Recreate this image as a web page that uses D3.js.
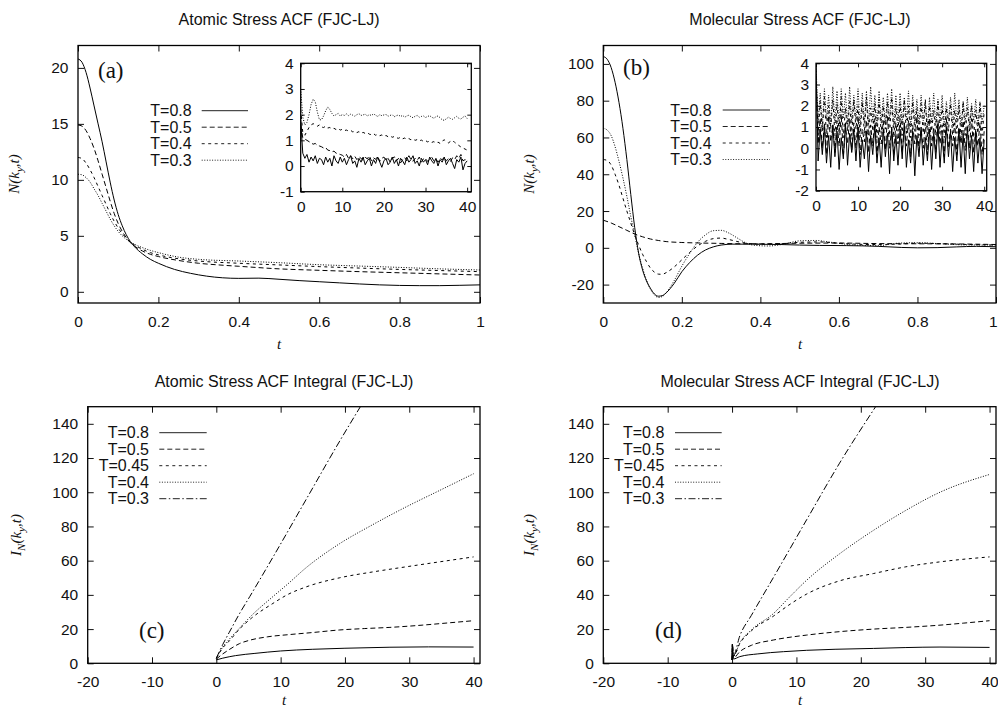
<!DOCTYPE html>
<html><head><meta charset="utf-8">
<script src="https://cdn.jsdelivr.net/npm/d3@7"></script>
<style>
body{margin:0;background:#fff}
svg{display:block}
text{font-family:"Liberation Sans",Arial,Helvetica,sans-serif;fill:#111}
</style></head><body>
<svg id="c" width="998" height="708"></svg>
<script>
// ---------------- DATA ----------------
// Panel (a): Atomic stress ACF, [t, N]
const a08 = [[0,20.8],[0.01,20.5],[0.02,19.6],[0.03,18.2],[0.04,16.6],[0.05,15.0],[0.06,13.4],[0.07,11.6],[0.08,9.8],[0.09,8.2],[0.1,6.9],[0.11,5.9],[0.12,5.1],[0.13,4.5],[0.14,4.05],[0.16,3.4],[0.18,2.9],[0.2,2.55],[0.24,2.0],[0.28,1.65],[0.32,1.4],[0.36,1.25],[0.4,1.2],[0.45,1.22],[0.5,1.12],[0.55,1.0],[0.6,0.9],[0.65,0.8],[0.7,0.7],[0.75,0.62],[0.8,0.57],[0.85,0.55],[0.9,0.55],[0.95,0.58],[1,0.62]];
const a05 = [[0,14.9],[0.01,14.8],[0.02,14.4],[0.03,13.7],[0.04,12.8],[0.05,11.7],[0.06,10.5],[0.07,9.3],[0.08,8.1],[0.09,7.0],[0.1,6.1],[0.11,5.4],[0.12,4.85],[0.13,4.4],[0.14,4.1],[0.16,3.65],[0.18,3.35],[0.2,3.15],[0.25,2.8],[0.3,2.55],[0.35,2.4],[0.4,2.28],[0.5,2.05],[0.6,1.92],[0.7,1.8],[0.8,1.7],[0.9,1.6],[1,1.5]];
const a04 = [[0,12.0],[0.01,11.9],[0.02,11.5],[0.03,10.9],[0.04,10.2],[0.05,9.4],[0.06,8.6],[0.07,7.8],[0.08,7.0],[0.09,6.3],[0.1,5.7],[0.11,5.2],[0.12,4.8],[0.13,4.45],[0.14,4.2],[0.16,3.8],[0.18,3.5],[0.2,3.3],[0.25,2.95],[0.3,2.75],[0.4,2.55],[0.5,2.4],[0.6,2.25],[0.7,2.12],[0.8,2.0],[0.9,1.9],[1,1.8]];
const a03 = [[0,10.5],[0.01,10.45],[0.02,10.2],[0.03,9.8],[0.04,9.2],[0.05,8.6],[0.06,7.9],[0.07,7.2],[0.08,6.5],[0.09,5.9],[0.1,5.4],[0.11,5.0],[0.12,4.7],[0.13,4.45],[0.14,4.25],[0.16,3.95],[0.18,3.7],[0.2,3.5],[0.25,3.1],[0.3,2.9],[0.4,2.75],[0.5,2.6],[0.6,2.42],[0.7,2.3],[0.8,2.18],[0.9,2.05],[1,1.95]];

// Inset (a): values every 0.5 time units from t = 0 to 40
const insetStepA = 0.5;
const ia03 = [3.0,1.9,1.6,1.7,2.0,2.4,2.6,2.5,2.1,1.8,1.8,1.95,2.15,2.3,2.2,2.05,1.95,2.0,2.05,1.95,
2.0,1.97,2.03,1.96,2.02,1.98,1.94,2.0,2.04,1.97,1.99,2.02,1.95,2.0,1.97,2.03,1.98,1.93,2.0,1.96,
1.99,2.01,1.94,1.97,2.0,1.92,1.96,1.99,1.93,1.97,1.9,1.95,1.98,1.92,1.88,1.94,1.97,1.9,1.93,1.95,
1.89,1.93,1.96,1.9,1.86,1.92,1.95,1.88,1.8,1.78,1.84,1.9,1.85,1.82,1.88,1.93,1.86,1.83,1.9,1.95,1.85];
const ia04 = [2.2,1.3,1.2,1.35,1.5,1.6,1.65,1.6,1.55,1.6,1.52,1.5,1.55,1.48,1.5,1.45,1.47,1.42,1.46,1.4,
1.43,1.38,1.4,1.36,1.39,1.33,1.35,1.3,1.34,1.28,1.31,1.27,1.3,1.24,1.22,1.26,1.2,1.23,1.18,1.21,
1.16,1.19,1.14,1.17,1.12,1.15,1.1,1.08,1.12,1.06,1.09,1.04,1.07,1.02,1.05,1.0,1.03,0.98,1.01,0.96,
0.99,0.94,0.97,0.92,0.95,0.9,0.93,0.88,0.97,1.02,0.95,0.9,0.96,1.0,0.92,0.86,0.8,0.74,0.7,0.66,0.62];
const ia05 = [1.6,1.1,1.05,1.0,0.95,0.9,0.85,0.88,0.8,0.78,0.75,0.7,0.72,0.62,0.6,0.55,0.58,0.5,0.48,0.45,
0.42,0.35,0.45,0.3,0.4,0.28,0.38,0.25,0.36,0.3,0.22,0.34,0.28,0.4,0.2,0.32,0.26,0.38,0.18,0.3,
0.35,0.22,0.3,0.15,0.28,0.36,0.2,0.3,0.12,0.25,0.33,0.2,0.4,0.25,0.18,0.3,0.22,0.35,0.15,0.28,
0.3,0.18,0.26,0.34,0.2,0.28,0.15,0.3,0.24,0.35,0.2,0.28,0.18,0.32,0.25,0.4,0.3,0.45,0.2,0.25,0.22];
const ia08 = [1.8,0.5,0.3,0.45,0.15,0.35,0.2,0.4,0.1,0.3,0.25,0.05,0.35,0.15,0.3,0.0,0.4,0.2,0.1,0.35,
0.15,0.3,0.05,0.25,0.4,0.1,0.2,-0.05,0.3,0.15,0.35,0.05,0.2,0.3,0.0,0.25,0.1,0.35,0.15,-0.05,
0.2,0.3,0.05,0.15,0.35,0.1,0.25,0.0,0.3,0.2,0.05,0.35,0.15,0.25,0.4,0.1,0.2,0.0,0.3,0.15,
0.25,0.05,0.35,0.2,0.1,0.3,0.0,0.25,0.15,0.35,0.05,0.2,0.3,0.1,-0.1,0.25,0.15,0.35,-0.15,0.1,0.2];

// Panel (b): Molecular stress ACF, [t, N]
const b08 = [[0,104],[0.01,102.5],[0.02,98],[0.03,90],[0.04,79],[0.05,65],[0.06,48],[0.07,29],[0.08,11],[0.09,-3],[0.1,-12],[0.11,-18],[0.12,-22],[0.13,-25],[0.14,-26.3],[0.15,-26],[0.16,-24.5],[0.18,-19.5],[0.2,-13],[0.22,-8],[0.24,-4],[0.26,-1.2],[0.28,0.5],[0.3,1.5],[0.33,2],[0.38,2],[0.45,1.8],[0.5,1.5],[0.55,1.3],[0.62,1.2],[0.7,0.8],[0.76,0.2],[0.8,0],[0.85,0.1],[0.9,0.5],[0.95,0.8],[1,0.6]];
const b05 = [[0,15],[0.02,13.5],[0.04,11.5],[0.06,9.5],[0.08,7.5],[0.1,6],[0.12,4.8],[0.14,4],[0.16,3.4],[0.2,2.9],[0.25,2.6],[0.3,2.4],[0.35,2.2],[0.4,2.2],[0.5,2.5],[0.6,2.6],[0.7,2.3],[0.8,2.2],[0.9,2.1],[1,1.8]];
const b04 = [[0,48],[0.01,47.5],[0.02,45],[0.03,40],[0.04,34],[0.05,27],[0.06,20],[0.07,13.5],[0.08,7],[0.09,1.5],[0.1,-3.5],[0.11,-7.5],[0.12,-11],[0.13,-13.2],[0.14,-14.3],[0.15,-14.4],[0.16,-13.5],[0.18,-10.5],[0.2,-6.5],[0.22,-2.5],[0.24,1],[0.26,3.5],[0.28,5],[0.3,5.3],[0.32,4.5],[0.35,3],[0.4,2],[0.45,2.2],[0.5,3],[0.55,3.2],[0.6,2.5],[0.68,1.8],[0.75,2],[0.8,2.5],[0.87,2.2],[0.93,1.8],[1,1.5]];
const b03 = [[0,65],[0.01,64],[0.02,61],[0.03,55],[0.04,47],[0.05,38],[0.06,28],[0.07,17],[0.08,7],[0.09,-3],[0.1,-11],[0.11,-17.5],[0.12,-22.5],[0.13,-25.5],[0.14,-27],[0.15,-26.5],[0.16,-24.5],[0.18,-18],[0.2,-10],[0.22,-3],[0.24,3],[0.26,7],[0.28,9.3],[0.3,9.5],[0.32,8],[0.34,5.5],[0.36,3],[0.38,1.5],[0.42,1],[0.46,2],[0.5,3.8],[0.54,4],[0.58,3],[0.64,1.5],[0.7,1.2],[0.75,2.5],[0.8,2.8],[0.86,2.2],[0.92,1.6],[1,1.5]];

// Inset (b): values every 0.5 time units from t = 0 to 40
const insetStepB = 0.5;
const ib03 = [4.0,1.2,2.6,1.0,2.8,1.3,2.5,1.1,2.9,1.2,2.7,1.0,2.8,1.4,2.6,1.1,2.9,1.2,2.5,1.3,
2.8,1.0,2.6,1.2,2.7,1.1,2.9,1.3,2.5,1.0,2.7,1.2,2.4,1.1,2.6,1.3,2.8,1.0,2.5,1.2,
2.6,1.1,2.4,1.3,2.7,1.0,2.5,1.2,2.3,1.1,2.5,1.3,2.2,1.0,2.4,1.2,2.6,1.1,2.3,1.2,
2.5,1.0,2.2,1.3,2.4,1.1,2.6,1.2,2.3,1.0,2.2,1.2,2.4,1.1,2.1,1.3,2.3,1.0,2.2,1.2,2.0];
const ib04 = [3.7,0.6,2.2,0.8,2.4,0.5,2.0,0.9,2.3,0.6,2.1,0.7,2.4,0.5,1.9,0.8,2.2,0.6,2.3,0.9,
2.0,0.5,2.2,0.7,2.4,0.6,1.9,0.8,2.1,0.5,2.3,0.7,2.0,0.9,2.2,0.6,2.4,0.5,1.9,0.8,
2.1,0.6,2.3,0.7,2.0,0.5,2.2,0.8,1.9,0.6,2.1,0.7,2.3,0.5,2.0,0.8,1.8,0.6,2.2,0.7,
2.0,0.5,1.9,0.8,2.1,0.6,1.8,0.7,2.0,0.5,2.2,0.6,1.9,0.8,2.0,0.5,1.8,0.7,2.1,0.6,1.7];
const ib05 = [3.5,0.2,1.4,0.0,1.2,-0.3,1.5,0.3,1.1,-0.2,1.3,0.1,1.6,-0.4,1.0,0.2,1.4,-0.1,1.2,0.0,
1.5,-0.3,0.9,0.3,1.3,-0.2,1.1,0.1,1.4,-0.4,1.0,0.2,1.3,-0.1,1.5,0.0,0.9,-0.3,1.2,0.2,
1.4,-0.2,1.0,0.1,1.3,-0.4,1.1,0.2,1.5,-0.1,0.9,0.0,1.2,-0.3,1.4,0.1,1.0,-0.2,1.3,0.2,
1.1,-0.4,1.4,0.0,0.9,0.1,1.2,-0.3,1.0,0.2,1.3,-0.1,1.1,0.0,1.4,-0.2,0.9,0.1,1.2,-0.3,0.8];
const ib08 = [3.9,-0.6,0.9,-0.3,1.0,-0.7,0.6,-0.9,1.1,-0.4,0.8,-1.0,0.5,-0.5,1.2,-0.8,0.7,-0.2,0.9,-0.6,
1.0,-0.9,0.4,-0.5,0.8,-1.1,0.6,-0.3,1.1,-0.7,0.5,-0.9,0.9,-0.4,0.7,-1.2,1.0,-0.6,0.6,-0.8,
0.9,-0.5,1.2,-0.9,0.4,-0.7,0.8,-1.3,0.6,-0.4,1.0,-0.8,0.5,-0.6,0.9,-1.0,0.7,-0.5,1.1,-0.9,
0.6,-0.7,1.0,-0.4,0.8,-1.1,0.5,-0.6,0.9,-0.9,0.7,-1.2,1.0,-0.5,0.6,-1.1,0.8,-0.7,0.5,-1.2,0.4];

// Panel (c): Atomic stress ACF integral, [t, I_N]
const c08 = [[0,2],[1,3],[3,4.5],[6,5.8],[10,7.2],[15,8.2],[20,8.8],[27,9.4],[33,9.6],[40,9.5]];
const c05 = [[0,2.5],[1,5.5],[2,8],[3.6,11.5],[5.2,13.5],[8,15.5],[11.4,16.8],[15,18],[19.2,19.5],[23,20.3],[27,21],[32,22.3],[36,23.6],[40,24.9]];
const c045 = [[0,3],[1,9],[2,13],[3.6,20],[5.5,26.5],[8.8,35],[11,40],[14,44.7],[19.2,50],[24.3,53.4],[29.5,56.4],[34.7,59.3],[40,62.2]];
const c04 = [[0,3],[1,9.5],[2,14],[3.6,20.5],[5.5,28],[8.8,39],[11,46],[14,56],[19.2,70],[24.3,81],[29.5,91.4],[34.7,101],[40,110.8]];
const c03 = [[0,3],[1,11],[2,18],[3.6,29],[5.2,39],[8.8,62],[14,96],[19.2,130],[22.4,150]];

// Panel (d): Molecular stress ACF integral, [t, I_N]
const d08 = [[0,2],[0.05,11],[0.2,2.5],[1.2,3.9],[4,5.5],[8,6.8],[11.6,7.6],[16,8.2],[22,8.7],[27,9.2],[32.3,9.5],[40,9.3]];
const d05 = [[0,2],[0.05,11],[0.2,3],[1.2,6.8],[3,10.5],[6.4,13.6],[11.6,16.5],[16.7,18.5],[22,20],[27,21],[32.3,22.3],[36,23.5],[40,24.9]];
const d045 = [[0,2],[0.05,11],[0.2,4],[1.2,11.5],[3,19],[6.4,27.5],[9,34.5],[11.6,40.5],[16.7,48.2],[22,52.5],[27,56.4],[32.3,59.3],[40,62.2]];
const d04 = [[0,2],[0.05,11],[0.2,4],[1.2,12],[3,19.5],[6.4,29],[9,39],[11.6,48.6],[16.7,64],[22,77.8],[27,89.4],[32.3,100],[40,110.4]];
const d03 = [[0,2],[0.05,11],[0.2,4.5],[1.2,16],[3,28],[6.4,50],[11.6,84],[16.7,117],[22.3,150]];

// Labels and ticks
const legendTop = ["T=0.8","T=0.5","T=0.4","T=0.3"];
const legendBottom = ["T=0.8","T=0.5","T=0.45","T=0.4","T=0.3"];
const titles = ["Atomic Stress ACF (FJC-LJ)","Molecular Stress ACF (FJC-LJ)","Atomic Stress ACF Integral (FJC-LJ)","Molecular Stress ACF Integral (FJC-LJ)"];
const xTicksTop = [0,0.2,0.4,0.6,0.8,1];
const yTicksA = [0,5,10,15,20];
const yTicksB = [-20,0,20,40,60,80,100];
const xTicksBottom = [-20,-10,0,10,20,30,40];
const yTicksCD = [0,20,40,60,80,100,120,140];
const xTicksInset = [0,10,20,30,40];
const yTicksInsetA = [-1,0,1,2,3,4];
const yTicksInsetB = [-2,-1,0,1,2,3,4];

// ---------------- DRAWING ----------------
const svg = d3.select("#c");
const DASH = {solid:null, long:"5,3", short:"3,3.5", dot:"1,1.6", dashdot:"7,2.5,1.5,2.5"};
const topStyles = [DASH.solid, DASH.long, DASH.short, DASH.dot];
const botStyles = [DASH.solid, DASH.long, DASH.short, DASH.dot, DASH.dashdot];
let clipN = 0;

function drawPanel(p) {
  const g = svg.append("g");
  const x = d3.scaleLinear().domain(p.xDomain).range([p.left, p.right]);
  const y = d3.scaleLinear().domain(p.yDomain).range([p.bottom, p.top]);
  const cid = "clip" + (clipN++);
  svg.append("clipPath").attr("id", cid).append("rect")
    .attr("x", p.left).attr("y", p.top).attr("width", p.right - p.left).attr("height", p.bottom - p.top);
  g.append("rect").attr("x", p.left).attr("y", p.top).attr("width", p.right - p.left)
    .attr("height", p.bottom - p.top).attr("fill", "#fff");
  const fmt = d => String(d);
  const none = () => "";
  const ts = p.tickLen;
  const fs = p.fontSize;
  const ax = [
    [d3.axisBottom(x).tickValues(p.xTicks).tickFormat(fmt).tickPadding(p.xPad), `translate(0,${p.bottom})`, "b"],
    [d3.axisTop(x).tickValues(p.xTicks).tickFormat(none), `translate(0,${p.top})`, "t"],
    [d3.axisLeft(y).tickValues(p.yTicks).tickFormat(fmt).tickPadding(p.yPad), `translate(${p.left},0)`, "l"],
    [d3.axisRight(y).tickValues(p.yTicks).tickFormat(none), `translate(${p.right},0)`, "r"]
  ];
  ax.forEach(([a, tr, side]) => {
    const ag = g.append("g").attr("transform", tr)
      .call(a.tickSizeInner(-ts).tickSizeOuter(0));
    ag.select(".domain").remove();
    ag.selectAll("line").attr("stroke", "#111").attr("stroke-width", 1);
    ag.selectAll("text").attr("font-size", fs)
      .attr("font-family", '"Liberation Sans",Arial,sans-serif').attr("fill", "#111");
    if (side === "b" && p.lastLabelEnd) {
      ag.selectAll(".tick").filter(d => d === p.xTicks[p.xTicks.length - 1])
        .select("text").attr("text-anchor", "end").attr("dx", 1);
    }
  });
  const line = d3.line().x(d => x(d[0])).y(d => y(d[1])).curve(p.curve);
  const lg = g.append("g").attr("clip-path", `url(#${cid})`);
  p.series.forEach(s => {
    lg.append("path").datum(s.data).attr("d", line)
      .attr("fill", "none").attr("stroke", "#000").attr("stroke-width", p.lw || 1)
      .attr("stroke-dasharray", s.dash);
  });
  g.append("rect").attr("x", p.left).attr("y", p.top).attr("width", p.right - p.left)
    .attr("height", p.bottom - p.top).attr("fill", "none").attr("stroke", "#000").attr("stroke-width", 1.3);
  return {x, y};
}

function yLabel(cx, cy, prefix) {
  const t = svg.append("text").attr("transform", `translate(${cx},${cy}) rotate(-90)`)
    .attr("text-anchor", "middle")
    .attr("font-style", "italic").attr("font-size", 15).style("font-family", '"Liberation Serif","Times New Roman",serif');
  if (prefix) {
    t.append("tspan").text("I");
    t.append("tspan").attr("dy", 4).attr("font-size", 11).text("N");
    t.append("tspan").attr("dy", -4).text("(k");
  } else {
    t.append("tspan").text("N(k");
  }
  t.append("tspan").attr("dy", 4).attr("font-size", 11).text("y");
  t.append("tspan").attr("dy", -4).text(",t)");
}

function tLabel(cx, by) {
  svg.append("text").attr("x", cx).attr("y", by).attr("text-anchor", "middle")
    .style("font-family", '"Liberation Serif",serif').attr("font-style", "italic")
    .attr("font-size", 15).text("t");
}

function title(cx, by, s) {
  svg.append("text").attr("x", cx).attr("y", by).attr("text-anchor", "middle")
    .attr("font-size", 16).text(s);
}

function panelLabel(x0, by, s) {
  svg.append("text").attr("x", x0).attr("y", by)
    .style("font-family", '"Liberation Serif","Times New Roman",serif')
    .attr("font-size", 23).text(s);
}

function legend(textRight, lineX0, lineX1, y0, names, styles) {
  names.forEach((n, i) => {
    const yy = y0 + i * 16.5;
    svg.append("text").attr("x", textRight).attr("y", yy + 5.6).attr("text-anchor", "end")
      .attr("font-size", 16).text(n);
    svg.append("line").attr("x1", lineX0).attr("x2", lineX1).attr("y1", yy).attr("y2", yy)
      .attr("stroke", "#222").attr("stroke-width", 1).attr("stroke-dasharray", styles[i]);
  });
}

const main = {tickLen: 6, fontSize: 15.5, xPad: 13, yPad: 9.5, curve: d3.curveMonotoneX, lw: 1};
const inset = {tickLen: 4, fontSize: 15.5, xPad: 9.5, yPad: 7, curve: d3.curveLinear, lw: 1};
const toSeries = (vals, step) => vals.map((v, i) => [i * step, v]);

// (a)
drawPanel(Object.assign({}, main, {left: 78, right: 480, top: 45.5, bottom: 303,
  xDomain: [0, 1], yDomain: [-1, 22], xTicks: xTicksTop, yTicks: yTicksA,
  series: [{data: a03, dash: DASH.dot}, {data: a04, dash: DASH.short}, {data: a05, dash: DASH.long}, {data: a08, dash: DASH.solid}]}));
drawPanel(Object.assign({}, inset, {left: 300.7, right: 471.3, top: 63.3, bottom: 191.7,
  xDomain: [0, 41], yDomain: [-1, 4], xTicks: xTicksInset, yTicks: yTicksInsetA,
  series: [{data: toSeries(ia03, insetStepA), dash: DASH.dot}, {data: toSeries(ia04, insetStepA), dash: DASH.short},
           {data: toSeries(ia05, insetStepA), dash: DASH.long}, {data: toSeries(ia08, insetStepA), dash: DASH.solid}]}));
// (b)
drawPanel(Object.assign({}, main, {left: 603.3, right: 996, top: 45.5, bottom: 303, lastLabelEnd: true,
  xDomain: [0, 1], yDomain: [-30, 110], xTicks: xTicksTop, yTicks: yTicksB,
  series: [{data: b03, dash: DASH.dot}, {data: b04, dash: DASH.short}, {data: b05, dash: DASH.long}, {data: b08, dash: DASH.solid}]}));
drawPanel(Object.assign({}, inset, {left: 816, right: 986.7, top: 63.3, bottom: 190.7,
  xDomain: [0, 40.6], yDomain: [-2, 4], xTicks: xTicksInset, yTicks: yTicksInsetB,
  series: [{data: toSeries(ib03, insetStepB), dash: DASH.dot}, {data: toSeries(ib04, insetStepB), dash: DASH.short},
           {data: toSeries(ib05, insetStepB), dash: DASH.long}, {data: toSeries(ib08, insetStepB), dash: DASH.solid}]}));
// (c)
drawPanel(Object.assign({}, main, {left: 87.7, right: 480, top: 406.7, bottom: 663.3,
  xDomain: [-20, 41], yDomain: [0, 150], xTicks: xTicksBottom, yTicks: yTicksCD,
  series: [{data: c08, dash: DASH.solid}, {data: c05, dash: DASH.long}, {data: c045, dash: DASH.short}, {data: c04, dash: DASH.dot}, {data: c03, dash: DASH.dashdot}]}));
// (d)
drawPanel(Object.assign({}, main, {left: 603.3, right: 996, top: 406.7, bottom: 663.3,
  xDomain: [-20, 41], yDomain: [0, 150], xTicks: xTicksBottom, yTicks: yTicksCD,
  series: [{data: d08, dash: DASH.solid}, {data: d05, dash: DASH.long}, {data: d045, dash: DASH.short}, {data: d04, dash: DASH.dot}, {data: d03, dash: DASH.dashdot}]}));

// Titles, axis labels, panel labels, legends
title(279, 25, titles[0]);
title(800, 25, titles[1]);
title(284, 387, titles[2]);
title(800, 387, titles[3]);
yLabel(19, 174, false);
yLabel(534, 174, false);
yLabel(21, 535, true);
yLabel(534, 535, true);
tLabel(279, 349);
tLabel(800, 349);
tLabel(284, 705);
tLabel(800, 705);
panelLabel(98, 78, "(a)");
panelLabel(623, 75, "(b)");
panelLabel(139, 638, "(c)");
panelLabel(655, 638, "(d)");
legend(191.7, 201.7, 248, 110.7, legendTop, topStyles);
legend(711.7, 722.7, 770, 110, legendTop, topStyles);
legend(149, 159.3, 206.7, 432.7, legendBottom, botStyles);
legend(664.3, 675, 721.7, 432.7, legendBottom, botStyles);
</script>
</body></html>
